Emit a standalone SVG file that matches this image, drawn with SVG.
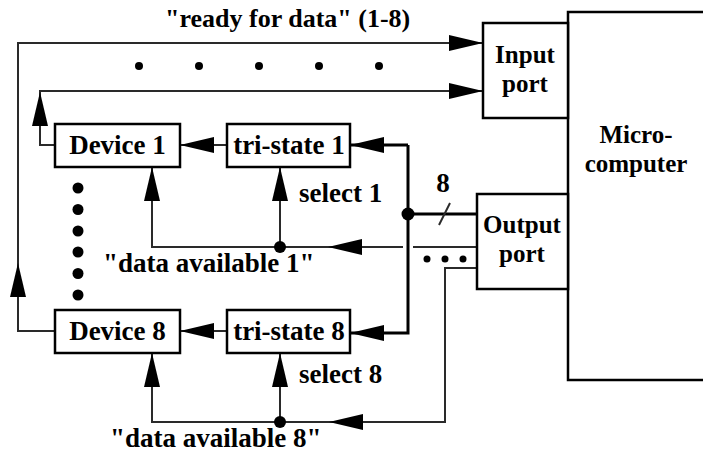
<svg xmlns="http://www.w3.org/2000/svg" width="703" height="461" viewBox="0 0 703 461">
<defs>
<style>
.box{fill:#fff;stroke:#000;stroke-width:2.5}
.t{font-family:"Liberation Serif","Times New Roman",serif;font-weight:bold;font-size:27px;fill:#000}
.t2{font-size:25px}
.m{text-anchor:middle}
.w{fill:none;stroke:#2a2a2a;stroke-width:2}
.bus{fill:none;stroke:#000;stroke-width:3}
.dot{fill:#000}
</style>
<marker id="ah" markerUnits="userSpaceOnUse" markerWidth="34" markerHeight="16" refX="34" refY="8" orient="auto" viewBox="0 0 34 16">
<path d="M0,0 L34,8 L0,16 z" fill="#000"/>
</marker>
</defs>
<rect width="703" height="461" fill="#fff"/>
<text class="t" x="165" y="27" style="font-size:26px">"ready for data" (1-8)</text>
<g id="connectors">
<path class="w" d="M55,331 H18 V43 H483" marker-end="url(#ah)"/>
<path class="w" d="M18,331 V263" marker-end="url(#ah)"/>
<path class="w" d="M55,145 H40 V91 H483" marker-end="url(#ah)"/>
<path class="w" d="M40,145 V92" marker-end="url(#ah)"/>
<path class="w" d="M227,145 H180" marker-end="url(#ah)"/>
<path class="w" d="M227,331 H180" marker-end="url(#ah)"/>
<path class="bus" d="M408,145 H350" marker-end="url(#ah)"/>
<path class="bus" d="M408,145 V333 H350" marker-end="url(#ah)"/>
<path class="bus" d="M408,214 H477"/>
<path class="w" d="M439,225 L450,203" stroke-width="1.5"/>
<path class="w" d="M477,247 H413 M403,247 H152 V167"/>
<path class="w" d="M152,247 V167" marker-end="url(#ah)"/>
<path class="w" d="M280,247 V167" marker-end="url(#ah)"/>
<path class="w" d="M380,247 H328" marker-end="url(#ah)"/>
<path class="w" d="M477,268 H445 V422 H152 V353"/>
<path class="w" d="M152,422 V353" marker-end="url(#ah)"/>
<path class="w" d="M280,422 V353" marker-end="url(#ah)"/>
<path class="w" d="M390,422 H329" marker-end="url(#ah)"/>
<circle class="dot" cx="408" cy="214" r="6.5"/>
<circle class="dot" cx="280" cy="247" r="6"/>
<circle class="dot" cx="280" cy="422" r="6"/>
</g>
<g id="dots">
<circle class="dot" cx="139" cy="66" r="4"/>
<circle class="dot" cx="199" cy="66" r="4"/>
<circle class="dot" cx="259" cy="66" r="4"/>
<circle class="dot" cx="319" cy="66" r="4"/>
<circle class="dot" cx="379" cy="66" r="4"/>
<circle class="dot" cx="78" cy="188" r="5.5"/>
<circle class="dot" cx="78" cy="209.5" r="5.5"/>
<circle class="dot" cx="78" cy="231" r="5.5"/>
<circle class="dot" cx="78" cy="252" r="5.5"/>
<circle class="dot" cx="78" cy="273.5" r="5.5"/>
<circle class="dot" cx="78" cy="295" r="5.5"/>
<circle class="dot" cx="427" cy="259" r="3.5"/>
<circle class="dot" cx="445" cy="259" r="3.5"/>
<circle class="dot" cx="463" cy="259" r="3.5"/>
</g>
<g id="microcomputer">
<rect class="box" x="568" y="12" width="140" height="368"/>
<text class="t t2 m"><tspan x="636" y="143">Micro-</tspan><tspan x="636" y="172">computer</tspan></text>
</g>
<g id="input-port">
<rect class="box" x="483" y="23" width="85" height="95"/>
<text class="t t2 m"><tspan x="525" y="63">Input</tspan><tspan x="525" y="92">port</tspan></text>
</g>
<g id="output-port">
<rect class="box" x="477" y="194" width="91" height="95"/>
<text class="t t2 m"><tspan x="522" y="233">Output</tspan><tspan x="522" y="262">port</tspan></text>
</g>
<g id="device1">
<rect class="box" x="55" y="124" width="125" height="43"/>
<text class="t m" x="117.5" y="154">Device 1</text>
</g>
<g id="tristate1">
<rect class="box" x="227" y="124" width="123" height="43"/>
<text class="t m" x="289" y="154">tri-state 1</text>
</g>
<g id="device8">
<rect class="box" x="55" y="310" width="125" height="43"/>
<text class="t m" x="117.5" y="340">Device 8</text>
</g>
<g id="tristate8">
<rect class="box" x="227" y="310" width="123" height="43"/>
<text class="t m" x="289" y="340">tri-state 8</text>
</g>
<text class="t m" x="443" y="192">8</text>
<text class="t" x="299" y="202">select 1</text>
<text class="t" x="103" y="272">"data available 1"</text>
<text class="t" x="299" y="383">select 8</text>
<text class="t" x="110" y="447">"data available 8"</text>
</svg>
